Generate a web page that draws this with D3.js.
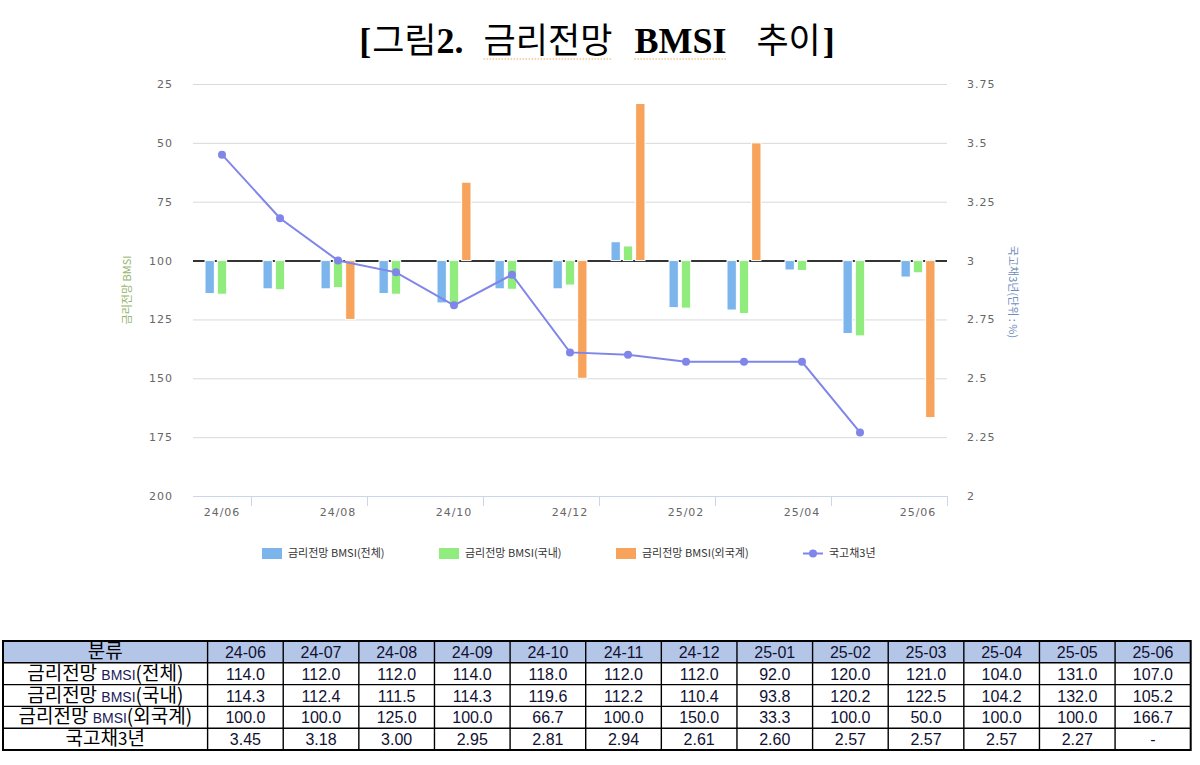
<!DOCTYPE html>
<html>
<head>
<meta charset="utf-8">
<script src="https://cdnjs.cloudflare.com/ajax/libs/d3/7.8.5/d3.min.js"></script>
<style>
  body { margin: 0; background: #fff; }
  svg { display: block; }
</style>
</head>
<body>
<svg id="chart" width="1200" height="765"></svg>
<script>
// data
var months = ["24/06","24/07","24/08","24/09","24/10","24/11","24/12","25/01","25/02","25/03","25/04","25/05","25/06"];
var tableMonths = ["24-06","24-07","24-08","24-09","24-10","24-11","24-12","25-01","25-02","25-03","25-04","25-05","25-06"];
var bmsiTotal = [114.0,112.0,112.0,114.0,118.0,112.0,112.0,92.0,120.0,121.0,104.0,131.0,107.0];
var bmsiDomestic = [114.3,112.4,111.5,114.3,119.6,112.2,110.4,93.8,120.2,122.5,104.2,132.0,105.2];
var bmsiForeign = [100.0,100.0,125.0,100.0,66.7,100.0,150.0,33.3,100.0,50.0,100.0,100.0,166.7];
var ktb3y = [3.45,3.18,3.00,2.95,2.81,2.94,2.61,2.60,2.57,2.57,2.57,2.27,null];
var leftTicks = [25,50,75,100,125,150,175,200];
var rightTicks = [2,2.25,2.5,2.75,3,3.25,3.5,3.75];

var seriesNames = ["금리전망 BMSI(전체)","금리전망 BMSI(국내)","금리전망 BMSI(외국계)","국고채3년"];
var colors = ["#7cb5ec","#90ed7d","#f7a35c","#8085e9"];
var bars = [bmsiTotal, bmsiDomestic, bmsiForeign];

var svg = d3.select("#chart");
var plotL = 193, plotR = 947, plotT = 84, plotB = 496;

var x = d3.scaleBand().domain(months).range([plotL, plotR]);
var xs = d3.scaleBand().domain([0,1,2]).range([-17, 17]).paddingInner(0.24);
var yL = d3.scaleLinear().domain([25,200]).range([plotT, plotB]);
var yR = d3.scaleLinear().domain([2,3.75]).range([plotB, plotT]);

// title
var tparts = [
  {t:"[", f:"'Liberation Serif'", w:"700", s:36, gap:0},
  {t:"그림", f:"'Noto Sans CJK KR'", w:"400", s:35, gap:1},
  {t:"2.", f:"'Liberation Serif'", w:"700", s:36, gap:0},
  {t:"금리전망", f:"'Noto Sans CJK KR'", w:"400", s:35, gap:20, ul:true},
  {t:"BMSI", f:"'Liberation Serif'", w:"700", s:36, gap:22, ul:true},
  {t:"추이", f:"'Noto Sans CJK KR'", w:"400", s:35, gap:30},
  {t:"]", f:"'Liberation Serif'", w:"700", s:36, gap:2}
];
var tg = svg.append("g");
var cx = 0, spans = [];
tparts.forEach(function(p){
  cx += p.gap;
  var el = tg.append("text")
    .attr("x", cx).attr("y", 53)
    .style("font-family", p.f).style("font-weight", p.w)
    .style("font-size", p.s + "px")
    .attr("fill", "#000").text(p.t);
  var w = el.node().getComputedTextLength();
  spans.push({x: cx, w: w, ul: p.ul});
  cx += w;
});
var shift = 597 - cx / 2;
tg.attr("transform", "translate(" + shift + ",0)");
spans.filter(function(s){ return s.ul; }).forEach(function(s){
  tg.append("line").attr("x1", s.x).attr("x2", s.x + s.w)
    .attr("y1", 59).attr("y2", 59)
    .attr("stroke", "#f2a65a").attr("stroke-width", 1.2)
    .attr("stroke-dasharray", "1.5,1.5");
});

// gridlines
svg.append("g").selectAll("line").data(leftTicks.filter(function(d){ return d != 200; }))
  .join("line")
  .attr("x1", plotL).attr("x2", plotR)
  .attr("y1", function(d){ return yL(d) + 0.5; })
  .attr("y2", function(d){ return yL(d) + 0.5; })
  .attr("stroke", function(d){ return d == 100 ? "#333" : "#d9d9d9"; })
  .attr("stroke-width", function(d){ return d == 100 ? 2 : 1; });

// x axis line + ticks
var xa = svg.append("g");
xa.append("line").attr("x1", plotL).attr("x2", plotR)
  .attr("y1", plotB + 0.5).attr("y2", plotB + 0.5)
  .attr("stroke", "#ccd6eb");
xa.selectAll("line.tk").data(months.filter(function(d,i){ return i % 2 == 0; }))
  .join("line").attr("class", "tk")
  .attr("x1", function(d){ return Math.round(x(d) + x.bandwidth()) + 0.5; })
  .attr("x2", function(d){ return Math.round(x(d) + x.bandwidth()) + 0.5; })
  .attr("y1", plotB).attr("y2", plotB + 10)
  .attr("stroke", "#ccd6eb");
xa.selectAll("text").data(months.filter(function(d,i){ return i % 2 == 0; }))
  .join("text")
  .attr("x", function(d){ return x(d) + x.bandwidth() / 2; })
  .attr("y", 516)
  .attr("text-anchor", "middle")
  .style("font-family", "'DejaVu Sans'").style("font-size", "11px")
  .style("letter-spacing", "1px")
  .attr("fill", "#666").text(function(d){ return d; });

// y axes
var axL = svg.append("g").attr("transform", "translate(" + (plotL - 20) + ",0)")
  .call(d3.axisLeft(yL).tickValues(leftTicks).tickSize(0).tickPadding(0));
var axR = svg.append("g").attr("transform", "translate(" + (plotR + 20) + ",0)")
  .call(d3.axisRight(yR).tickValues(rightTicks).tickSize(0).tickPadding(0)
    .tickFormat(function(d){ return String(d); }));
[axL, axR].forEach(function(a){
  a.select(".domain").remove();
  a.selectAll("text")
    .style("font-family", "'DejaVu Sans'").style("font-size", "11px")
    .style("letter-spacing", "1px").attr("fill", "#666");
});

svg.append("text")
  .attr("transform", "translate(131,290) rotate(-90)")
  .attr("text-anchor", "middle")
  .style("font-family", "'Noto Sans CJK KR'").style("font-size", "11px")
  .attr("fill", "#95b46a").text("금리전망 BMSI");
svg.append("text")
  .attr("transform", "translate(1009,292) rotate(90)")
  .attr("text-anchor", "middle")
  .style("font-family", "'Noto Sans CJK KR'").style("font-size", "11px")
  .attr("fill", "#6d8dbb").text("국고채3년(단위 : %)");

// bars
bars.forEach(function(vals, s){
  svg.append("g").selectAll("rect").data(vals).join("rect")
    .attr("x", function(d,i){ return x(months[i]) + x.bandwidth() / 2 + xs(s); })
    .attr("width", xs.bandwidth())
    .attr("y", function(d){ return Math.min(yL(d), yL(100)); })
    .attr("height", function(d){ return Math.abs(yL(d) - yL(100)); })
    .attr("fill", colors[s])
    .attr("stroke", "#fff").attr("stroke-width", 1);
});

// line
var line = d3.line()
  .defined(function(d){ return d != null; })
  .x(function(d,i){ return x(months[i]) + x.bandwidth() / 2; })
  .y(function(d){ return yR(d); });
svg.append("path").datum(ktb3y)
  .attr("d", line).attr("fill", "none")
  .attr("stroke", colors[3]).attr("stroke-width", 2);
svg.append("g").selectAll("circle")
  .data(ktb3y.map(function(v,i){ return {v:v, m:months[i]}; }).filter(function(d){ return d.v != null; }))
  .join("circle")
  .attr("cx", function(d){ return x(d.m) + x.bandwidth() / 2; })
  .attr("cy", function(d){ return yR(d.v); })
  .attr("r", 4).attr("fill", colors[3]);

// legend
var legX = [262, 439, 616, 803];
var lg = svg.append("g").selectAll("g").data(seriesNames).join("g")
  .attr("transform", function(d,i){ return "translate(" + legX[i] + ",553)"; });
lg.each(function(d,i){
  var g = d3.select(this);
  if (i < 3) {
    g.append("rect").attr("x", 0).attr("y", -5).attr("width", 20).attr("height", 11)
      .attr("fill", colors[i]);
  } else {
    g.append("line").attr("x1", 0).attr("x2", 20).attr("y1", 0.5).attr("y2", 0.5)
      .attr("stroke", colors[3]).attr("stroke-width", 2);
    g.append("circle").attr("cx", 10).attr("cy", 0.5).attr("r", 4).attr("fill", colors[3]);
  }
  g.append("text").attr("x", 26).attr("y", 4)
    .style("font-family", "'Noto Sans CJK KR'").style("font-size", "11px")
    .attr("fill", "#333").text(d);
});

// table
var tx0 = 3, tx1 = 207.6, tx2 = 1190.7, ty0 = 641, rowH = 21.8;
var colW = (tx2 - tx1) / tableMonths.length;
var rowLabels = [
  [["금리전망 ",19],["BMSI",14],["(전체)",19]],
  [["금리전망 ",19],["BMSI",14],["(국내)",19]],
  [["금리전망 ",19],["BMSI",14],["(외국계)",19]],
  [["국고채",19],["3",17],["년",19]]
];
var rows = [
  bmsiTotal.map(function(v){ return v.toFixed(1); }),
  bmsiDomestic.map(function(v){ return v.toFixed(1); }),
  bmsiForeign.map(function(v){ return v.toFixed(1); }),
  ktb3y.map(function(v){ return v == null ? "-" : v.toFixed(2); })
];
var tb = svg.append("g");
tb.append("rect").attr("x", tx0).attr("y", ty0).attr("width", tx2 - tx0).attr("height", rowH)
  .attr("fill", "#b4c6e7");
// inner lines
for (var r = 1; r < 5; r++) {
  tb.append("line").attr("x1", tx0).attr("x2", tx2)
    .attr("y1", ty0 + r * rowH).attr("y2", ty0 + r * rowH)
    .attr("stroke", "#000").attr("stroke-width", 1.4);
}
for (var c = 0; c < tableMonths.length; c++) {
  tb.append("line").attr("x1", tx1 + c * colW).attr("x2", tx1 + c * colW)
    .attr("y1", ty0).attr("y2", ty0 + 5 * rowH)
    .attr("stroke", "#000").attr("stroke-width", 1.4);
}
tb.append("rect").attr("x", tx0).attr("y", ty0).attr("width", tx2 - tx0).attr("height", 5 * rowH)
  .attr("fill", "none").attr("stroke", "#000").attr("stroke-width", 2);

tb.append("text").attr("x", (tx0 + tx1) / 2).attr("y", ty0 + rowH / 2 + 6)
  .attr("text-anchor", "middle")
  .style("font-family", "'Noto Sans CJK KR'").style("font-size", "19px")
  .attr("fill", "#000").text("분류");
tb.selectAll("text.hd").data(tableMonths).join("text").attr("class", "hd")
  .attr("x", function(d,i){ return tx1 + (i + 0.5) * colW; })
  .attr("y", ty0 + rowH / 2 + 6)
  .attr("text-anchor", "middle")
  .style("font-family", "'Liberation Sans'").style("font-size", "16px")
  .attr("fill", "#111133").text(function(d){ return d; });

rowLabels.forEach(function(parts, r){
  var t = tb.append("text").attr("x", (tx0 + tx1) / 2).attr("y", ty0 + (r + 1.5) * rowH + 6)
    .attr("text-anchor", "middle")
    .style("font-family", "'Noto Sans CJK KR'").attr("fill", "#000");
  parts.forEach(function(p){
    t.append("tspan").style("font-size", p[1] + "px")
      .style("font-family", p[1] == 14 ? "'Liberation Sans'" : "'Noto Sans CJK KR'")
      .attr("fill", p[1] == 14 ? "#1a1a5a" : "#000")
      .text(p[0]);
  });
  tb.append("g").selectAll("text").data(rows[r]).join("text")
    .attr("x", function(d,i){ return tx1 + (i + 0.5) * colW; })
    .attr("y", ty0 + (r + 1.5) * rowH + 6)
    .attr("text-anchor", "middle")
    .style("font-family", "'Liberation Sans'").style("font-size", "16px")
    .attr("fill", "#111133").text(function(d){ return d; });
});
</script>
</body>
</html>
